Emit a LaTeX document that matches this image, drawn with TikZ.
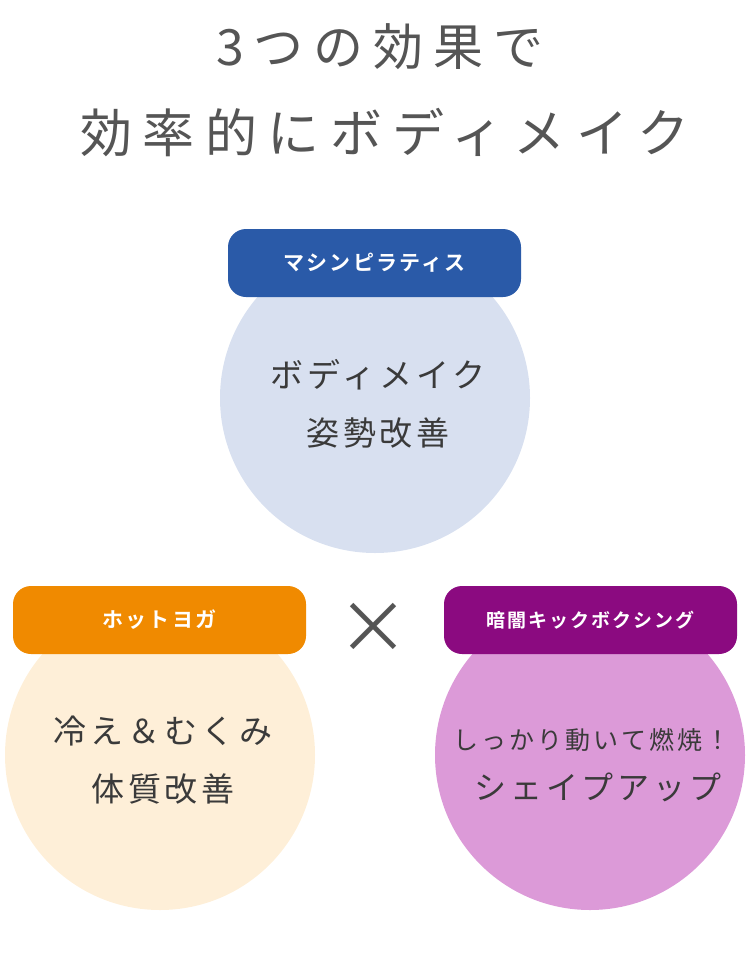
\documentclass[tikz,border=0pt]{standalone}
\usepackage{fontspec}
\setmainfont{Noto Sans CJK JP}
\newfontfamily\wideface{Noto Sans CJK JP}[LetterSpace=20]
\newfontfamily\midface{Noto Sans CJK JP}[LetterSpace=12]
\newfontfamily\tagface{Noto Sans CJK JP}[LetterSpace=10,BoldFont=* Bold]
\definecolor{titlegray}{HTML}{555555}
\definecolor{textgray}{HTML}{3A3A3A}
\definecolor{pilatesblue}{HTML}{2A5AA8}
\definecolor{pilatesfill}{HTML}{D8E0F0}
\definecolor{yogaorange}{HTML}{F08A00}
\definecolor{yogafill}{HTML}{FEEFD8}
\definecolor{boxpurple}{HTML}{8B0A80}
\definecolor{boxfill}{HTML}{DC9AD8}
\begin{document}
\begin{tikzpicture}[x=1pt,y=-1pt,
  bubble/.style={circle,minimum size=310pt,inner sep=0pt},
  tag/.style={rounded corners=18pt,minimum width=293pt,minimum height=68pt,text=white,font=\tagface\fontsize{21}{24}\selectfont\bfseries},
  body/.style={text=textgray,align=center,font=\midface\fontsize{33}{58}\selectfont}]
  \useasboundingbox (0,0) rectangle (750,977);

  % title
  \node[text=titlegray,font=\wideface\fontsize{50}{60}\selectfont] (t1) at (380,47) {3つの効果で};
  \node[text=titlegray,font=\wideface\fontsize{52}{60}\selectfont] (t2) at (385,133) {効率的にボディメイク};

  % machine pilates
  \node[bubble,fill=pilatesfill] (c1) at (375,398) {};
  \node[tag,fill=pilatesblue] (p1) at (374.5,263) {マシンピラティス};
  \node[body] (b1) at (378,404) {ボディメイク\\姿勢改善};

  % hot yoga
  \node[bubble,fill=yogafill] (c2) at (160,755) {};
  \node[tag,fill=yogaorange] (p2) at (159.5,620) {ホットヨガ};
  \node[body] (b2) at (163,760) {冷え＆むくみ\\体質改善};

  % boxing
  \node[bubble,fill=boxfill] (c3) at (590,755) {};
  \node[tag,fill=boxpurple,font=\tagface\fontsize{19}{22}\selectfont\bfseries] (p3) at (590.5,620) {暗闇キックボクシング};
  \node[text=textgray,font=\midface\fontsize{25}{30}\selectfont] (b3a) at (592,740) {しっかり動いて燃焼！};
  \node[text=textgray,font=\midface\fontsize{32}{36}\selectfont] (b3b) at (598,787) {シェイプアップ};

  % times sign
  \node[text=titlegray,font=\fontsize{72}{72}\selectfont] (x) at (373,628) {×};
\end{tikzpicture}
\end{document}
